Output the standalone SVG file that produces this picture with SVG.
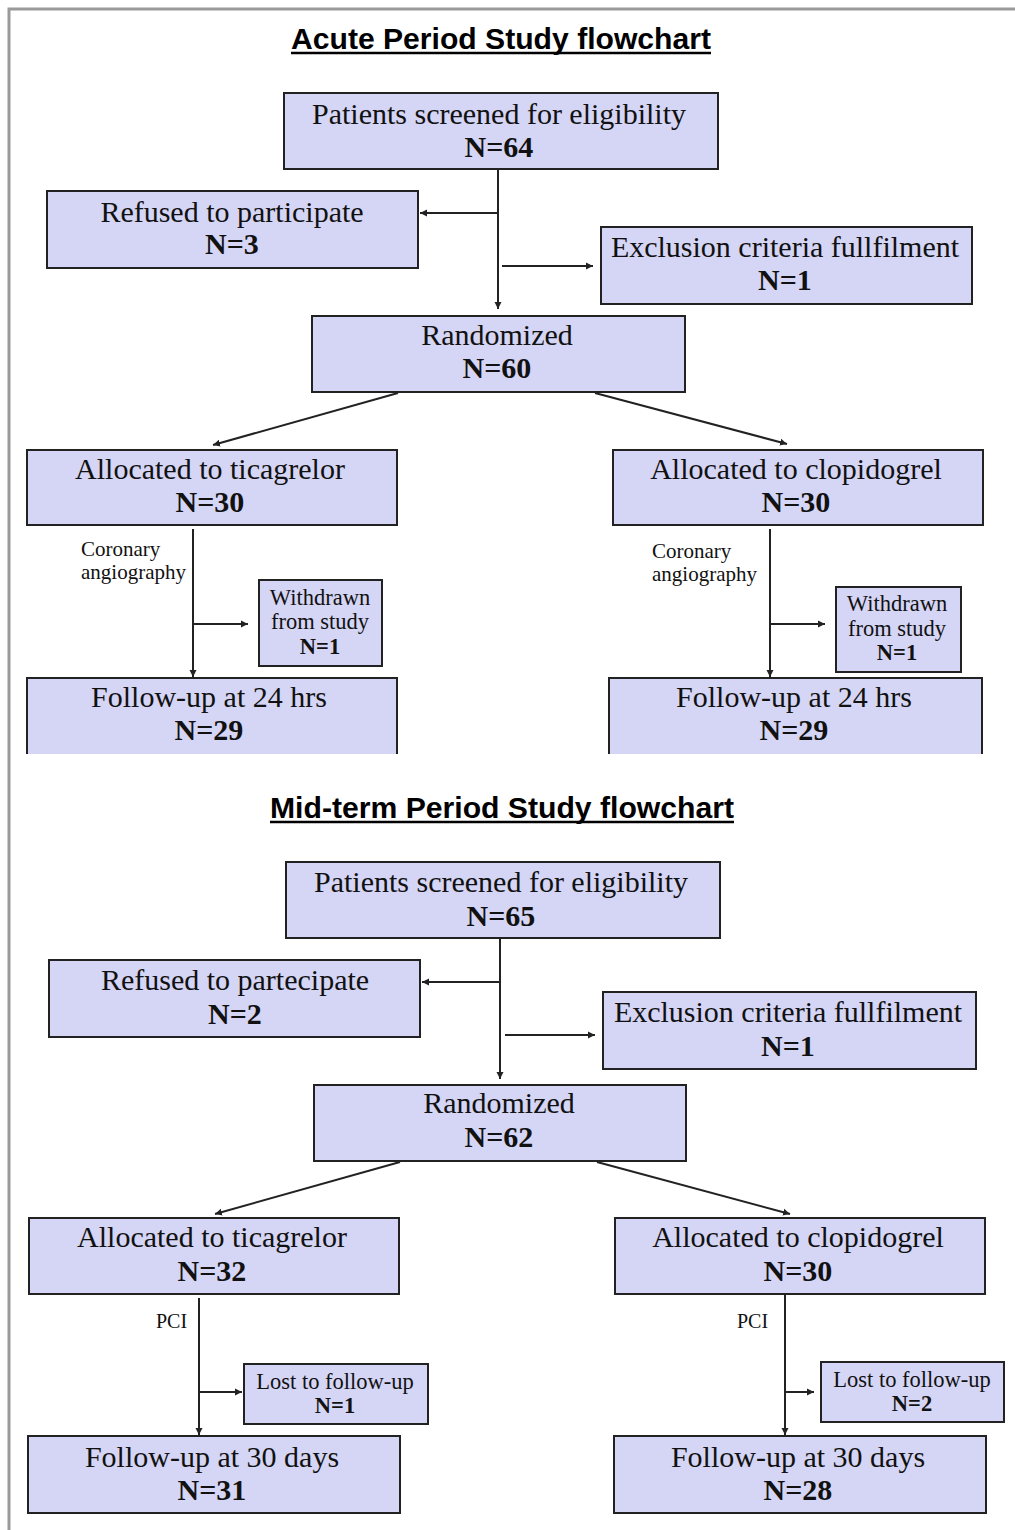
<svg xmlns="http://www.w3.org/2000/svg" width="1015" height="1530" viewBox="0 0 1015 1530">
<defs>
<marker id="arr" markerUnits="userSpaceOnUse" markerWidth="8" markerHeight="8" refX="7" refY="4" orient="auto">
<path d="M0,0.5 L7,4 L0,7.5 z" fill="#222"/>
</marker>
<style>
.box{fill:#d5d5f5;stroke:#222;stroke-width:2}
.t{font-family:"Liberation Serif","Times New Roman",serif;font-size:30px;fill:#111;text-anchor:middle}
.b{font-weight:bold}
.s{font-family:"Liberation Serif","Times New Roman",serif;font-size:22.5px;fill:#111;text-anchor:middle}
.lab{font-family:"Liberation Serif","Times New Roman",serif;font-size:21px;fill:#111}
.pci{font-family:"Liberation Serif","Times New Roman",serif;font-size:20px;fill:#111}
.title{font-family:"Liberation Sans",Arial,sans-serif;font-size:29px;font-weight:bold;fill:#000;text-anchor:middle}
.c{fill:none;stroke:#222;stroke-width:2}
</style>
</defs>
<rect width="1015" height="1530" fill="#fff"/>
<path d="M9,1530 V9 H1015" fill="none" stroke="#9a9a9a" stroke-width="3"/>

<g id="title-acute">
<text class="title" x="501" y="49" textLength="420" lengthAdjust="spacingAndGlyphs">Acute Period Study flowchart</text>
<line x1="291" y1="53" x2="711" y2="53" stroke="#000" stroke-width="2.5"/>
</g>
<g id="title-mid">
<text class="title" x="502" y="818" textLength="464" lengthAdjust="spacingAndGlyphs">Mid-term Period Study flowchart</text>
<line x1="270" y1="822" x2="734" y2="822" stroke="#000" stroke-width="2.5"/>
</g>

<g id="connectors">
<line class="c" x1="498" y1="169" x2="498" y2="309" marker-end="url(#arr)"/>
<line class="c" x1="498" y1="213" x2="420" y2="213" marker-end="url(#arr)"/>
<line class="c" x1="502" y1="266" x2="593" y2="266" marker-end="url(#arr)"/>
<line class="c" x1="398" y1="393" x2="213" y2="445" marker-end="url(#arr)"/>
<line class="c" x1="595" y1="393" x2="787" y2="444" marker-end="url(#arr)"/>
<line class="c" x1="193" y1="529" x2="193" y2="677" marker-end="url(#arr)"/>
<line class="c" x1="193" y1="624" x2="248" y2="624" marker-end="url(#arr)"/>
<line class="c" x1="770" y1="529" x2="770" y2="677" marker-end="url(#arr)"/>
<line class="c" x1="770" y1="624" x2="825" y2="624" marker-end="url(#arr)"/>

<line class="c" x1="500" y1="938" x2="500" y2="1079" marker-end="url(#arr)"/>
<line class="c" x1="500" y1="982" x2="422" y2="982" marker-end="url(#arr)"/>
<line class="c" x1="505" y1="1035" x2="595" y2="1035" marker-end="url(#arr)"/>
<line class="c" x1="400" y1="1162" x2="215" y2="1214" marker-end="url(#arr)"/>
<line class="c" x1="597" y1="1162" x2="790" y2="1214" marker-end="url(#arr)"/>
<line class="c" x1="199" y1="1298" x2="199" y2="1435" marker-end="url(#arr)"/>
<line class="c" x1="199" y1="1392" x2="242" y2="1392" marker-end="url(#arr)"/>
<line class="c" x1="785" y1="1294" x2="785" y2="1435" marker-end="url(#arr)"/>
<line class="c" x1="785" y1="1392" x2="814" y2="1392" marker-end="url(#arr)"/>
</g>

<g id="a-screened"><rect class="box" x="284" y="93" width="434" height="76"/>
<text class="t" x="499" y="124">Patients screened for eligibility</text><text class="t b" x="499" y="157">N=64</text></g>
<g id="a-refused"><rect class="box" x="47" y="191" width="371" height="77"/>
<text class="t" x="232" y="222">Refused to participate</text><text class="t b" x="232" y="254">N=3</text></g>
<g id="a-exclusion"><rect class="box" x="601" y="227" width="371" height="77"/>
<text class="t" x="785" y="257">Exclusion criteria fullfilment</text><text class="t b" x="785" y="290">N=1</text></g>
<g id="a-randomized"><rect class="box" x="312" y="316" width="373" height="76"/>
<text class="t" x="497" y="345">Randomized</text><text class="t b" x="497" y="378">N=60</text></g>
<g id="a-ticagrelor"><rect class="box" x="27" y="450" width="370" height="75"/>
<text class="t" x="210" y="479">Allocated to ticagrelor</text><text class="t b" x="210" y="512">N=30</text></g>
<g id="a-clopidogrel"><rect class="box" x="613" y="450" width="370" height="75"/>
<text class="t" x="796" y="479">Allocated to clopidogrel</text><text class="t b" x="796" y="512">N=30</text></g>
<g id="a-label-left"><text class="lab" x="81" y="556">Coronary</text><text class="lab" x="81" y="579">angiography</text></g>
<g id="a-label-right"><text class="lab" x="652" y="558">Coronary</text><text class="lab" x="652" y="581">angiography</text></g>
<g id="a-withdrawn-left"><rect class="box" x="259" y="580" width="123" height="86"/>
<text class="s" x="320" y="605">Withdrawn</text><text class="s" x="320" y="629">from study</text><text class="s b" x="320" y="654">N=1</text></g>
<g id="a-withdrawn-right"><rect class="box" x="836" y="587" width="125" height="85"/>
<text class="s" x="897" y="611">Withdrawn</text><text class="s" x="897" y="636">from study</text><text class="s b" x="897" y="660">N=1</text></g>
<g id="a-followup-left"><rect x="27" y="678" width="370" height="76" fill="#d5d5f5"/>
<path class="c" d="M27,754 V678 H397 V754"/>
<text class="t" x="209" y="707">Follow-up at 24 hrs</text><text class="t b" x="209" y="740">N=29</text></g>
<g id="a-followup-right"><rect x="609" y="678" width="373" height="76" fill="#d5d5f5"/>
<path class="c" d="M609,754 V678 H982 V754"/>
<text class="t" x="794" y="707">Follow-up at 24 hrs</text><text class="t b" x="794" y="740">N=29</text></g>

<g id="m-screened"><rect class="box" x="286" y="862" width="434" height="76"/>
<text class="t" x="501" y="892">Patients screened for eligibility</text><text class="t b" x="501" y="926">N=65</text></g>
<g id="m-refused"><rect class="box" x="49" y="960" width="371" height="77"/>
<text class="t" x="235" y="990">Refused to partecipate</text><text class="t b" x="235" y="1024">N=2</text></g>
<g id="m-exclusion"><rect class="box" x="603" y="992" width="373" height="77"/>
<text class="t" x="788" y="1022">Exclusion criteria fullfilment</text><text class="t b" x="788" y="1056">N=1</text></g>
<g id="m-randomized"><rect class="box" x="314" y="1085" width="372" height="76"/>
<text class="t" x="499" y="1113">Randomized</text><text class="t b" x="499" y="1147">N=62</text></g>
<g id="m-ticagrelor"><rect class="box" x="29" y="1218" width="370" height="76"/>
<text class="t" x="212" y="1247">Allocated to ticagrelor</text><text class="t b" x="212" y="1281">N=32</text></g>
<g id="m-clopidogrel"><rect class="box" x="615" y="1218" width="370" height="76"/>
<text class="t" x="798" y="1247">Allocated to clopidogrel</text><text class="t b" x="798" y="1281">N=30</text></g>
<g id="m-label-left"><text class="pci" x="156" y="1328">PCI</text></g>
<g id="m-label-right"><text class="pci" x="737" y="1328">PCI</text></g>
<g id="m-lost-left"><rect class="box" x="244" y="1364" width="184" height="60"/>
<text class="s" x="335" y="1389">Lost to follow-up</text><text class="s b" x="335" y="1413">N=1</text></g>
<g id="m-lost-right"><rect class="box" x="821" y="1362" width="183" height="60"/>
<text class="s" x="912" y="1387">Lost to follow-up</text><text class="s b" x="912" y="1411">N=2</text></g>
<g id="m-followup-left"><rect class="box" x="28" y="1436" width="372" height="77"/>
<text class="t" x="212" y="1467">Follow-up at 30 days</text><text class="t b" x="212" y="1500">N=31</text></g>
<g id="m-followup-right"><rect class="box" x="614" y="1436" width="372" height="77"/>
<text class="t" x="798" y="1467">Follow-up at 30 days</text><text class="t b" x="798" y="1500">N=28</text></g>
</svg>
